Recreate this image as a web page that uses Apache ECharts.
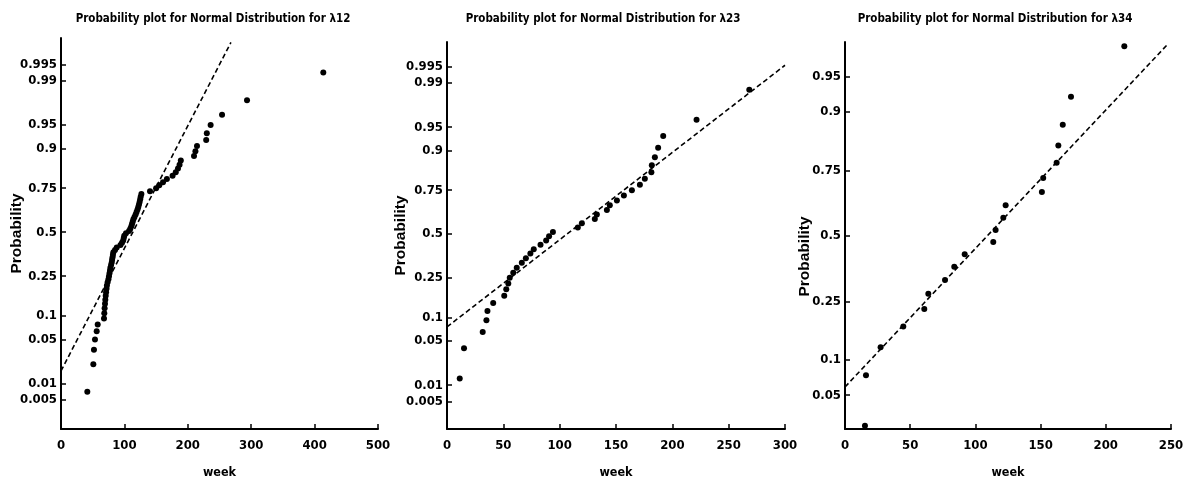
<!DOCTYPE html>
<html><head><meta charset="utf-8">
<script src="https://cdn.jsdelivr.net/npm/echarts@6/dist/echarts.min.js"></script>
<style>html,body{margin:0;padding:0;background:#fff}#c{width:1189px;height:484px}</style>
</head><body><div id="c"></div>
<script>
// ---- data (sorted samples, weeks) ----
const titles = ['Probability plot for Normal Distribution for \u03bb12','Probability plot for Normal Distribution for \u03bb23','Probability plot for Normal Distribution for \u03bb34'];
const week12 = [41.5,51,52,53.6,56.3,57.9,67.8,68.3,68.8,69.4,69.9,70.5,71.1,71.8,72.4,73.5,74.8,75.7,76.5,77.3,77.9,79,80,80.6,81.3,81.9,82.6,85.2,87.9,93.8,96.2,98.1,99,99.8,102.5,107.3,109.3,110.9,112,113.1,114.2,115.9,117.7,119.2,120.7,121.9,123,124,124.9,125.7,126.8,140.4,150,155,160.9,167,176,181,184.5,187,189,209.8,212,214.5,229,230,236,254,293.4,413.7];
const week23 = [11.3,15.1,31.7,35,35.9,41,50.8,52.6,54.4,55.7,58.8,61.9,66.4,70,74,77,83,88,90.6,94,116.1,119.7,131.2,133,141.9,144.5,150.8,157,164.1,171.2,175.6,181.4,181.8,184.5,187.4,191.9,221.5,268.3];
const week34 = [15.3,16.1,27.3,44.7,60.8,63.9,76.7,83.8,91.8,113.7,115.5,121.4,123.2,151,152,162.3,163.6,167,173.3,214.2];
// reference lines: [week, probability] end points
const ref12 = [[0,0.0166],[268,0.9982]];
const ref23 = [[0,0.0764],[300,0.9953]];
const ref34 = [[0,0.0594],[248,0.9766]];
// tick labels
const yTicks12 = ['0.005','0.01','0.05','0.1','0.25','0.5','0.75','0.9','0.95','0.99','0.995'];
const yTicks23 = ['0.005','0.01','0.05','0.1','0.25','0.5','0.75','0.9','0.95','0.99','0.995'];
const yTicks34 = ['0.05','0.1','0.25','0.5','0.75','0.9','0.95'];
const xMax = [500,300,250];
const xStep = [100,50,50];

// inverse standard normal CDF (probability axis scale)
function norminv(p){
 const a=[-3.969683028665376e+01,2.209460984245205e+02,-2.759285104469687e+02,1.383577518672690e+02,-3.066479806614716e+01,2.506628277459239e+00];
 const b=[-5.447609879822406e+01,1.615858368580409e+02,-1.556989798598866e+02,6.680131188771972e+01,-1.328068155288572e+01];
 const c=[-7.784894002430293e-03,-3.223964580411365e-01,-2.400758277161838e+00,-2.549732539343734e+00,4.374664141464968e+00,2.938163982698783e+00];
 const d=[7.784695709041462e-03,3.224671290700398e-01,2.445134137142996e+00,3.754408661907416e+00];
 const pl=0.02425, ph=1-pl; let q,r;
 if(p<pl){q=Math.sqrt(-2*Math.log(p));return (((((c[0]*q+c[1])*q+c[2])*q+c[3])*q+c[4])*q+c[5])/((((d[0]*q+d[1])*q+d[2])*q+d[3])*q+1);}
 if(p>ph){q=Math.sqrt(-2*Math.log(1-p));return -(((((c[0]*q+c[1])*q+c[2])*q+c[3])*q+c[4])*q+c[5])/((((d[0]*q+d[1])*q+d[2])*q+d[3])*q+1);}
 q=p-0.5;r=q*q;return (((((a[0]*r+a[1])*r+a[2])*r+a[3])*r+a[4])*r+a[5])*q/(((((b[0]*r+b[1])*r+b[2])*r+b[3])*r+b[4])*r+1);
}
// probability plot: sorted sample i -> plotting position (i-0.5)/n
function probPoints(w){const n=w.length;return w.map((x,i)=>[x,norminv((i+0.5)/n)]);}
function refLine(r){return r.map(([x,p])=>[x,norminv(p)]);}

const FONT = "'Liberation Sans Narrow','DejaVu Sans Condensed','Arial Narrow',sans-serif";
const grids = [
 {left:61,top:38,width:317,height:392},
 {left:447,top:42,width:338,height:387},
 {left:845,top:42,width:326,height:392}
];
const yRange = [[-3.02,2.98],[-3.0,2.955],[-1.994,2.004]];
const titleX = [213,603,995];
const yTickSets = [yTicks12,yTicks23,yTicks34];
const samples = [week12,week23,week34];
const refs = [ref12,ref23,ref34];
const nameShift = [0,0,42];
const nameGapY = [36,38,32];

const option = {
 backgroundColor:'#fff',
 animation:false,
 title: titles.map((t,i)=>({text:t,left:titleX[i]-5,top:8,textAlign:'center',
   textStyle:{fontFamily:FONT,fontWeight:'bold',fontSize:11.5,color:'#000'}})),
 grid: grids,
 xAxis: grids.map((g,i)=>({type:'value',gridIndex:i,min:0,max:xMax[i],interval:xStep[i],
   name:'week',nameLocation:'middle',nameGap:37,nameMoveOverlap:false,
   nameTextStyle:{fontFamily:FONT,fontWeight:'bold',fontSize:12.5,color:'#000'},
   axisLine:{onZero:false,lineStyle:{color:'#000',width:2}},
   axisTick:{inside:true,length:5,lineStyle:{color:'#000',width:1.5}},
   axisLabel:{color:'#000',fontFamily:FONT,fontWeight:'bold',fontSize:13,margin:10},
   splitLine:{show:false}})),
 yAxis: grids.map((g,i)=>{
   const vals = yTickSets[i].map(s=>norminv(parseFloat(s)));
   return {type:'value',gridIndex:i,min:yRange[i][0],max:yRange[i][1],
   name:'Probability',nameLocation:'middle',nameGap:nameGapY[i],nameMoveOverlap:false,
   nameTextStyle:{fontFamily:"'Liberation Sans','DejaVu Sans',sans-serif",fontWeight:'bold',fontSize:15.5,color:'#000',padding:[0,nameShift[i],0,0]},
   axisLine:{onZero:false,lineStyle:{color:'#000',width:2}},
   axisTick:{inside:true,length:5,customValues:vals,lineStyle:{color:'#000',width:1.5}},
   axisLabel:{color:'#000',fontFamily:FONT,fontWeight:'bold',fontSize:13,margin:4,customValues:vals,
     formatter:(v)=>{const k=vals.findIndex(z=>Math.abs(z-v)<1e-9);return k>=0?yTickSets[i][k]:'';}},
   splitLine:{show:false}};}),
 series: [].concat(...samples.map((w,i)=>[
   {type:'line',xAxisIndex:i,yAxisIndex:i,data:refLine(refs[i]),symbol:'none',silent:true,
    lineStyle:{color:'#000',width:1.6,type:[5,3]},z:2},
   {type:'scatter',xAxisIndex:i,yAxisIndex:i,data:probPoints(w),symbol:'circle',symbolSize:6,
    itemStyle:{color:'#000',opacity:1},z:3}
 ]))
};
const chart = echarts.init(document.getElementById('c'),null,{renderer:'canvas'});
chart.setOption(option);
</script></body></html>
